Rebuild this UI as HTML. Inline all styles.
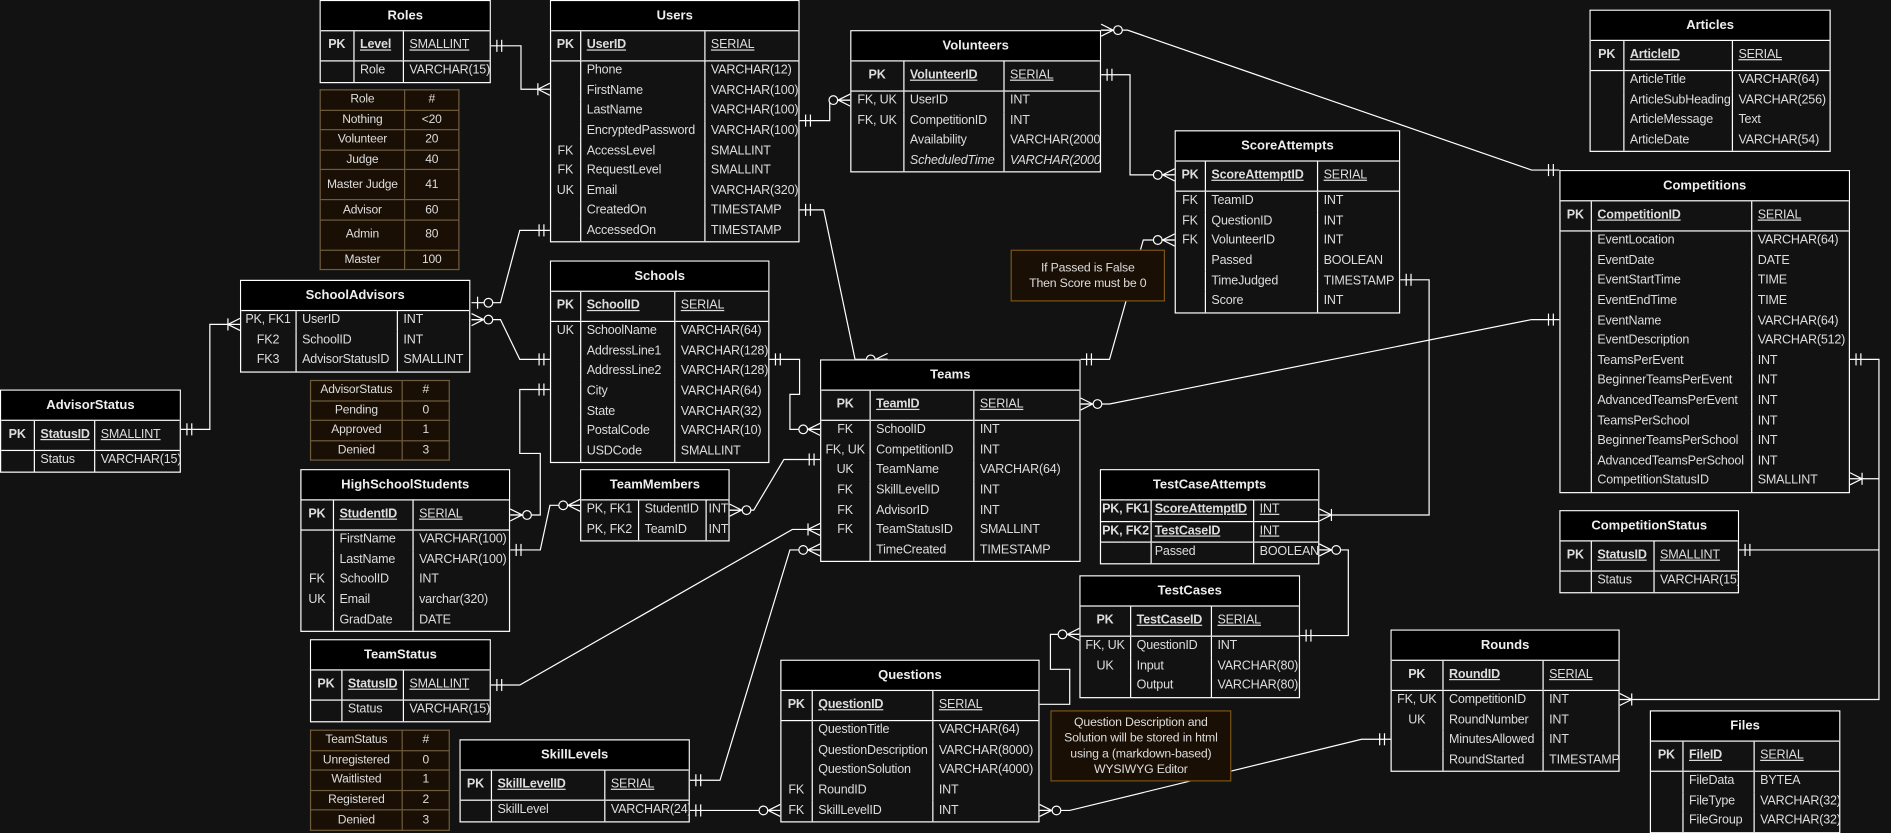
<!DOCTYPE html>
<html><head><meta charset="utf-8">
<style>
html,body{margin:0;padding:0;background:#121212;}
body{width:1891px;height:831px;overflow:hidden;position:relative;}
#w{position:absolute;left:0;top:0;width:1568px;height:689px;transform:scale(1.206);transform-origin:0 0;font-family:"Liberation Sans",sans-serif;font-size:10.4px;letter-spacing:-0.15px;color:#ddd;}
svg{position:absolute;left:0;top:0;}
.e{position:absolute;border:1px solid #fff;background:#121212;box-sizing:border-box;}
.e .t{height:24px;background:#000;border-bottom:1px solid #fff;font-weight:bold;text-align:center;line-height:24px;color:#eee;font-size:10.8px;letter-spacing:0;}
.e table{border-collapse:collapse;width:100%;table-layout:fixed;}
.e td{padding:0 0 0 5px;height:16.6px;border-left:1px solid #fff;white-space:nowrap;overflow:hidden;line-height:16px;}
.e td:first-child{border-left:none;text-align:center;padding:0;}
.e tr.pk td{height:24px;border-bottom:1px solid #fff;}
.e tr.pk td:first-child{font-weight:bold;}
.e tr.pk td:nth-child(2){font-weight:bold;text-decoration:underline;}
.e tr.pk td:nth-child(3){text-decoration:underline;}
.e tr.b td{border-bottom:1px solid #fff;}
.e i{font-style:italic;}
.en{position:absolute;border-collapse:collapse;background:#1a0f05;color:#ddd;font-size:10px;text-align:center;}
.en td{border:1px solid #6e5c3e;padding:0;height:15.6px;}
.en tr.tall td{height:23.9px;}
.note{position:absolute;background:#1a0f05;border:1px solid #7a5416;color:#ddd;text-align:center;box-sizing:border-box;font-size:10.2px;line-height:13px;display:flex;align-items:center;justify-content:center;}
</style></head><body><div id="w">

<svg width="1568" height="689" viewBox="0 0 1568 689">
<defs>
<g id="one" stroke="#fff" stroke-width="1" fill="none"><line x1="5" y1="-5" x2="5" y2="5"/><line x1="9" y1="-5" x2="9" y2="5"/></g>
<g id="zm" stroke="#fff" stroke-width="1" fill="none"><line x1="0" y1="-5" x2="10" y2="0"/><line x1="0" y1="5" x2="10" y2="0"/><line x1="0" y1="0" x2="10" y2="0"/><circle cx="14" cy="0" r="3.6" fill="#121212"/></g>
<g id="om" stroke="#fff" stroke-width="1" fill="none"><line x1="0" y1="-5" x2="10" y2="0"/><line x1="0" y1="5" x2="10" y2="0"/><line x1="10" y1="-5" x2="10" y2="5"/></g>
<g id="zo" stroke="#fff" stroke-width="1" fill="none"><line x1="5" y1="-5" x2="5" y2="5"/><circle cx="14" cy="0" r="3.6" fill="#121212"/></g>
</defs>
<g stroke="#fff" stroke-width="1" fill="none">
<polyline points="407,38 432,38 432,74 456,74"/>
<polyline points="663,100 688,100 688,83 705,83"/>
<polyline points="663,174 683,174 709,298 736,298"/>
<polyline points="913,62 937,62 937,145 974,145"/>
<polyline points="913,25 935,25 1270,141 1293,141"/>
<polyline points="1161,232 1185,232 1185,427 1094,427"/>
<polyline points="896,298 920,298 948,199 974,199"/>
<polyline points="896,335 920,335 1270,265 1293,265"/>
<polyline points="638,298 663,298 663,327 655,327 655,356 680,356"/>
<polyline points="456,191 431,191 415,251 391,251"/>
<polyline points="456,298 431,298 415,265 391,265"/>
<polyline points="199,269 174,269 174,356 150,356"/>
<polyline points="456,323 431,323 431,376 448,376 448,427 423,427"/>
<polyline points="423,456 448,456 456,419 481,419"/>
<polyline points="605,423 625,423 650,381 680,381"/>
<polyline points="407,568 431,568 657,439 680,439"/>
<polyline points="572,647 597,647 655,456 680,456"/>
<polyline points="572,672 647,672"/>
<polyline points="862,584 887,584 887,555 871,555 871,526 895,526"/>
<polyline points="862,672 887,672 1129,613 1153,613"/>
<polyline points="1094,456 1118,456 1118,527 1078,527"/>
<polyline points="1534,298 1558,298 1558,580 1343,580"/>
<polyline points="1534,397 1558,397"/>
<polyline points="1442,456 1558,456"/>
</g>
<use href="#one" transform="translate(407,38)"/>
<use href="#om" transform="translate(456,74) scale(-1,1)"/>
<use href="#one" transform="translate(663,100)"/>
<use href="#zm" transform="translate(705,83) scale(-1,1)"/>
<use href="#one" transform="translate(663,174)"/>
<use href="#zm" transform="translate(736,298) scale(-1,1)"/>
<use href="#one" transform="translate(913,62)"/>
<use href="#zm" transform="translate(974,145) scale(-1,1)"/>
<use href="#zm" transform="translate(913,25)"/>
<use href="#one" transform="translate(1293,141) scale(-1,1)"/>
<use href="#one" transform="translate(1161,232)"/>
<use href="#om" transform="translate(1094,427)"/>
<use href="#one" transform="translate(896,298)"/>
<use href="#zm" transform="translate(974,199) scale(-1,1)"/>
<use href="#zm" transform="translate(896,335)"/>
<use href="#one" transform="translate(1293,265) scale(-1,1)"/>
<use href="#one" transform="translate(638,298)"/>
<use href="#zm" transform="translate(680,356) scale(-1,1)"/>
<use href="#one" transform="translate(456,191) scale(-1,1)"/>
<use href="#zo" transform="translate(391,251)"/>
<use href="#one" transform="translate(456,298) scale(-1,1)"/>
<use href="#zm" transform="translate(391,265)"/>
<use href="#om" transform="translate(199,269) scale(-1,1)"/>
<use href="#one" transform="translate(150,356)"/>
<use href="#one" transform="translate(456,323) scale(-1,1)"/>
<use href="#zm" transform="translate(423,427)"/>
<use href="#one" transform="translate(423,456)"/>
<use href="#zm" transform="translate(481,419) scale(-1,1)"/>
<use href="#zm" transform="translate(605,423)"/>
<use href="#one" transform="translate(680,381) scale(-1,1)"/>
<use href="#one" transform="translate(407,568)"/>
<use href="#om" transform="translate(680,439) scale(-1,1)"/>
<use href="#one" transform="translate(572,647)"/>
<use href="#zm" transform="translate(680,456) scale(-1,1)"/>
<use href="#one" transform="translate(572,672)"/>
<use href="#zm" transform="translate(647,672) scale(-1,1)"/>
<use href="#zm" transform="translate(895,526) scale(-1,1)"/>
<use href="#zm" transform="translate(862,672)"/>
<use href="#one" transform="translate(1153,613) scale(-1,1)"/>
<use href="#zm" transform="translate(1094,456)"/>
<use href="#one" transform="translate(1078,527)"/>
<use href="#one" transform="translate(1534,298)"/>
<use href="#om" transform="translate(1534,397)"/>
<use href="#one" transform="translate(1442,456)"/>
<use href="#om" transform="translate(1343,580)"/>
</svg>

<div class="e" style="left:265px;top:0;width:142px"><div class="t">Roles</div><table><colgroup><col style="width:27px"><col style="width:41px"><col></colgroup>
<tr class="pk"><td>PK</td><td>Level</td><td>SMALLINT</td></tr><tr><td></td><td>Role</td><td>VARCHAR(15)</td></tr></table></div>

<div class="e" style="left:456px;top:0;width:207px"><div class="t">Users</div><table><colgroup><col style="width:24px"><col style="width:103px"><col></colgroup>
<tr class="pk"><td>PK</td><td>UserID</td><td>SERIAL</td></tr>
<tr><td></td><td>Phone</td><td>VARCHAR(12)</td></tr>
<tr><td></td><td>FirstName</td><td>VARCHAR(100)</td></tr>
<tr><td></td><td>LastName</td><td>VARCHAR(100)</td></tr>
<tr><td></td><td>EncryptedPassword</td><td>VARCHAR(100)</td></tr>
<tr><td>FK</td><td>AccessLevel</td><td>SMALLINT</td></tr>
<tr><td>FK</td><td>RequestLevel</td><td>SMALLINT</td></tr>
<tr><td>UK</td><td>Email</td><td>VARCHAR(320)</td></tr>
<tr><td></td><td>CreatedOn</td><td>TIMESTAMP</td></tr>
<tr><td></td><td>AccessedOn</td><td>TIMESTAMP</td></tr></table></div>

<div class="e" style="left:705px;top:25px;width:208px"><div class="t">Volunteers</div><table><colgroup><col style="width:43px"><col style="width:83px"><col></colgroup>
<tr class="pk"><td>PK</td><td>VolunteerID</td><td>SERIAL</td></tr>
<tr><td>FK, UK</td><td>UserID</td><td>INT</td></tr>
<tr><td>FK, UK</td><td>CompetitionID</td><td>INT</td></tr>
<tr><td></td><td>Availability</td><td>VARCHAR(2000)</td></tr>
<tr><td></td><td><i>ScheduledTime</i></td><td><i>VARCHAR(2000)</i></td></tr></table></div>

<div class="e" style="left:1318px;top:8px;width:200px"><div class="t">Articles</div><table><colgroup><col style="width:27px"><col style="width:90px"><col></colgroup>
<tr class="pk"><td>PK</td><td>ArticleID</td><td>SERIAL</td></tr>
<tr><td></td><td>ArticleTitle</td><td>VARCHAR(64)</td></tr>
<tr><td></td><td>ArticleSubHeading</td><td>VARCHAR(256)</td></tr>
<tr><td></td><td>ArticleMessage</td><td>Text</td></tr>
<tr><td></td><td>ArticleDate</td><td>VARCHAR(54)</td></tr></table></div>

<div class="e" style="left:974px;top:108px;width:187px"><div class="t">ScoreAttempts</div><table><colgroup><col style="width:24px"><col style="width:93px"><col></colgroup>
<tr class="pk"><td>PK</td><td>ScoreAttemptID</td><td>SERIAL</td></tr>
<tr><td>FK</td><td>TeamID</td><td>INT</td></tr>
<tr><td>FK</td><td>QuestionID</td><td>INT</td></tr>
<tr><td>FK</td><td>VolunteerID</td><td>INT</td></tr>
<tr><td></td><td>Passed</td><td>BOOLEAN</td></tr>
<tr><td></td><td>TimeJudged</td><td>TIMESTAMP</td></tr>
<tr><td></td><td>Score</td><td>INT</td></tr></table></div>

<div class="e" style="left:1293px;top:141px;width:241px"><div class="t">Competitions</div><table><colgroup><col style="width:25px"><col style="width:133px"><col></colgroup>
<tr class="pk"><td>PK</td><td>CompetitionID</td><td>SERIAL</td></tr>
<tr><td></td><td>EventLocation</td><td>VARCHAR(64)</td></tr>
<tr><td></td><td>EventDate</td><td>DATE</td></tr>
<tr><td></td><td>EventStartTime</td><td>TIME</td></tr>
<tr><td></td><td>EventEndTime</td><td>TIME</td></tr>
<tr><td></td><td>EventName</td><td>VARCHAR(64)</td></tr>
<tr><td></td><td>EventDescription</td><td>VARCHAR(512)</td></tr>
<tr><td></td><td>TeamsPerEvent</td><td>INT</td></tr>
<tr><td></td><td>BeginnerTeamsPerEvent</td><td>INT</td></tr>
<tr><td></td><td>AdvancedTeamsPerEvent</td><td>INT</td></tr>
<tr><td></td><td>TeamsPerSchool</td><td>INT</td></tr>
<tr><td></td><td>BeginnerTeamsPerSchool</td><td>INT</td></tr>
<tr><td></td><td>AdvancedTeamsPerSchool</td><td>INT</td></tr>
<tr><td></td><td>CompetitionStatusID</td><td>SMALLINT</td></tr></table></div>

<div class="e" style="left:199px;top:232px;width:191px"><div class="t">SchoolAdvisors</div><table><colgroup><col style="width:45px"><col style="width:84px"><col></colgroup>
<tr><td>PK, FK1</td><td>UserID</td><td>INT</td></tr>
<tr><td>FK2</td><td>SchoolID</td><td>INT</td></tr>
<tr><td>FK3</td><td>AdvisorStatusID</td><td>SMALLINT</td></tr></table></div>

<div class="e" style="left:456px;top:216px;width:182px"><div class="t">Schools</div><table><colgroup><col style="width:24px"><col style="width:78px"><col></colgroup>
<tr class="pk"><td>PK</td><td>SchoolID</td><td>SERIAL</td></tr>
<tr><td>UK</td><td>SchoolName</td><td>VARCHAR(64)</td></tr>
<tr><td></td><td>AddressLine1</td><td>VARCHAR(128)</td></tr>
<tr><td></td><td>AddressLine2</td><td>VARCHAR(128)</td></tr>
<tr><td></td><td>City</td><td>VARCHAR(64)</td></tr>
<tr><td></td><td>State</td><td>VARCHAR(32)</td></tr>
<tr><td></td><td>PostalCode</td><td>VARCHAR(10)</td></tr>
<tr><td></td><td>USDCode</td><td>SMALLINT</td></tr></table></div>

<div class="e" style="left:0;top:323px;width:150px"><div class="t">AdvisorStatus</div><table><colgroup><col style="width:27px"><col style="width:50px"><col></colgroup>
<tr class="pk"><td>PK</td><td>StatusID</td><td>SMALLINT</td></tr>
<tr><td></td><td>Status</td><td>VARCHAR(15)</td></tr></table></div>

<div class="e" style="left:680px;top:298px;width:216px"><div class="t">Teams</div><table><colgroup><col style="width:40px"><col style="width:86px"><col></colgroup>
<tr class="pk"><td>PK</td><td>TeamID</td><td>SERIAL</td></tr>
<tr><td>FK</td><td>SchoolID</td><td>INT</td></tr>
<tr><td>FK, UK</td><td>CompetitionID</td><td>INT</td></tr>
<tr><td>UK</td><td>TeamName</td><td>VARCHAR(64)</td></tr>
<tr><td>FK</td><td>SkillLevelID</td><td>INT</td></tr>
<tr><td>FK</td><td>AdvisorID</td><td>INT</td></tr>
<tr><td>FK</td><td>TeamStatusID</td><td>SMALLINT</td></tr>
<tr><td></td><td>TimeCreated</td><td>TIMESTAMP</td></tr></table></div>

<div class="e" style="left:249px;top:389px;width:174px"><div class="t">HighSchoolStudents</div><table><colgroup><col style="width:26px"><col style="width:66px"><col></colgroup>
<tr class="pk"><td>PK</td><td>StudentID</td><td>SERIAL</td></tr>
<tr><td></td><td>FirstName</td><td>VARCHAR(100)</td></tr>
<tr><td></td><td>LastName</td><td>VARCHAR(100)</td></tr>
<tr><td>FK</td><td>SchoolID</td><td>INT</td></tr>
<tr><td>UK</td><td>Email</td><td>varchar(320)</td></tr>
<tr><td></td><td>GradDate</td><td>DATE</td></tr></table></div>

<div class="e" style="left:481px;top:389px;width:124px"><div class="t">TeamMembers</div><table><colgroup><col style="width:47px"><col style="width:56px"><col></colgroup>
<tr><td>PK, FK1</td><td>StudentID</td><td style="padding-left:2px">INT</td></tr>
<tr><td>PK, FK2</td><td>TeamID</td><td style="padding-left:2px">INT</td></tr></table></div>

<div class="e" style="left:912px;top:389px;width:182px"><div class="t">TestCaseAttempts</div><table><colgroup><col style="width:41px"><col style="width:85px"><col></colgroup>
<tr class="b"><td><b>PK, FK1</b></td><td style="padding-left:3px"><b><u>ScoreAttemptID</u></b></td><td><u>INT</u></td></tr>
<tr class="b"><td><b>PK, FK2</b></td><td style="padding-left:3px"><b><u>TestCaseID</u></b></td><td><u>INT</u></td></tr>
<tr><td></td><td style="padding-left:3px">Passed</td><td>BOOLEAN</td></tr></table></div>

<div class="e" style="left:1293px;top:423px;width:149px"><div class="t">CompetitionStatus</div><table><colgroup><col style="width:25px"><col style="width:52px"><col></colgroup>
<tr class="pk"><td>PK</td><td>StatusID</td><td>SMALLINT</td></tr>
<tr><td></td><td>Status</td><td>VARCHAR(15)</td></tr></table></div>

<div class="e" style="left:895px;top:477px;width:183px"><div class="t">TestCases</div><table><colgroup><col style="width:41px"><col style="width:67px"><col></colgroup>
<tr class="pk"><td>PK</td><td>TestCaseID</td><td>SERIAL</td></tr>
<tr><td>FK, UK</td><td>QuestionID</td><td>INT</td></tr>
<tr><td>UK</td><td>Input</td><td>VARCHAR(80)</td></tr>
<tr><td></td><td>Output</td><td>VARCHAR(80)</td></tr></table></div>

<div class="e" style="left:257px;top:530px;width:150px"><div class="t">TeamStatus</div><table><colgroup><col style="width:25px"><col style="width:51px"><col></colgroup>
<tr class="pk"><td>PK</td><td>StatusID</td><td>SMALLINT</td></tr>
<tr><td></td><td>Status</td><td>VARCHAR(15)</td></tr></table></div>

<div class="e" style="left:647px;top:547px;width:215px"><div class="t">Questions</div><table><colgroup><col style="width:25px"><col style="width:100px"><col></colgroup>
<tr class="pk"><td>PK</td><td>QuestionID</td><td>SERIAL</td></tr>
<tr><td></td><td>QuestionTitle</td><td>VARCHAR(64)</td></tr>
<tr><td></td><td>QuestionDescription</td><td>VARCHAR(8000)</td></tr>
<tr><td></td><td>QuestionSolution</td><td>VARCHAR(4000)</td></tr>
<tr><td>FK</td><td>RoundID</td><td>INT</td></tr>
<tr><td>FK</td><td>SkillLevelID</td><td>INT</td></tr></table></div>

<div class="e" style="left:1153px;top:522px;width:190px"><div class="t">Rounds</div><table><colgroup><col style="width:42px"><col style="width:83px"><col></colgroup>
<tr class="pk"><td>PK</td><td>RoundID</td><td>SERIAL</td></tr>
<tr><td>FK, UK</td><td>CompetitionID</td><td>INT</td></tr>
<tr><td>UK</td><td>RoundNumber</td><td>INT</td></tr>
<tr><td></td><td>MinutesAllowed</td><td>INT</td></tr>
<tr><td></td><td>RoundStarted</td><td>TIMESTAMP</td></tr></table></div>

<div class="e" style="left:381px;top:613px;width:191px"><div class="t">SkillLevels</div><table><colgroup><col style="width:25px"><col style="width:94px"><col></colgroup>
<tr class="pk"><td>PK</td><td>SkillLevelID</td><td>SERIAL</td></tr>
<tr><td></td><td>SkillLevel</td><td>VARCHAR(24)</td></tr></table></div>

<div class="e" style="left:1368px;top:589px;width:158px"><div class="t">Files</div><table><colgroup><col style="width:26px"><col style="width:59px"><col></colgroup>
<tr class="pk"><td>PK</td><td>FileID</td><td>SERIAL</td></tr>
<tr><td></td><td>FileData</td><td>BYTEA</td></tr>
<tr><td></td><td>FileType</td><td>VARCHAR(32)</td></tr>
<tr><td></td><td>FileGroup</td><td>VARCHAR(32)</td></tr></table></div>

<table class="en" style="left:265px;top:74px;width:116px"><colgroup><col style="width:70px"><col></colgroup>
<tr><td>Role</td><td>#</td></tr><tr><td>Nothing</td><td>&lt;20</td></tr><tr><td>Volunteer</td><td>20</td></tr><tr><td>Judge</td><td>40</td></tr>
<tr class="tall"><td>Master Judge</td><td>41</td></tr><tr><td>Advisor</td><td>60</td></tr><tr class="tall"><td>Admin</td><td>80</td></tr><tr><td>Master</td><td>100</td></tr></table>

<table class="en" style="left:257px;top:315px;width:116px"><colgroup><col style="width:76px"><col></colgroup>
<tr><td>AdvisorStatus</td><td>#</td></tr><tr><td>Pending</td><td>0</td></tr><tr><td>Approved</td><td>1</td></tr><tr><td>Denied</td><td>3</td></tr></table>

<table class="en" style="left:257px;top:605px;width:116px"><colgroup><col style="width:76px"><col></colgroup>
<tr><td>TeamStatus</td><td>#</td></tr><tr><td>Unregistered</td><td>0</td></tr><tr><td>Waitlisted</td><td>1</td></tr><tr><td>Registered</td><td>2</td></tr><tr><td>Denied</td><td>3</td></tr></table>

<div class="note" style="left:838px;top:207px;width:128px;height:43px">If Passed is False<br>Then Score must be 0</div>
<div class="note" style="left:871px;top:589px;width:150px;height:59px">Question Description and<br>Solution will be stored in html<br>using a (markdown-based)<br>WYSIWYG Editor</div>

</div></body></html>
